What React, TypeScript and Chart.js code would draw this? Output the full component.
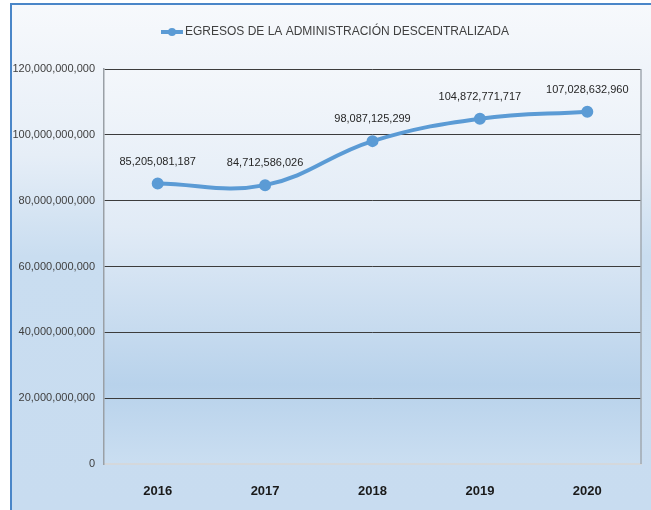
import React, { useEffect, useRef } from "react";
import { Chart, registerables } from "chart.js";

Chart.register(...registerables);

const years = ["2016", "2017", "2018", "2019", "2020"];
const egresos = [85205081187, 84712586026, 98087125299, 104872771717, 107028632960];
const seriesName = "EGRESOS DE LA ADMINISTRACIÓN DESCENTRALIZADA";
const yMin = 0;
const yMax = 120000000000;
const yStep = 20000000000;

const FONT = "'Liberation Sans Narrow', 'Liberation Sans', 'DejaVu Sans Condensed', sans-serif";
const LINE_COLOR = "#5b9bd5";

const fmt = (v: number) => Math.round(v).toLocaleString("en-US");

const backgroundPlugin = {
  id: "bgPlugin",
  beforeDraw(chart: any) {
    const { ctx, chartArea, width, height } = chart;
    ctx.save();
    const g = ctx.createLinearGradient(0, 3, 0, height);
    g.addColorStop(0, "#f7f9fc");
    g.addColorStop(0.3, "#e6eef7");
    g.addColorStop(0.5, "#c9ddf0");
    g.addColorStop(1, "#c8dcf0");
    ctx.fillStyle = g;
    ctx.fillRect(10, 3, width - 10, height - 3);
    ctx.strokeStyle = "#4a86c8";
    ctx.lineWidth = 2;
    ctx.beginPath();
    ctx.moveTo(11, height);
    ctx.lineTo(11, 4);
    ctx.lineTo(width, 4);
    ctx.stroke();
    const { left, top, right, bottom } = chartArea;
    const pg = ctx.createLinearGradient(0, top, 0, bottom);
    pg.addColorStop(0, "#f4f7fb");
    pg.addColorStop(0.4, "#e1ebf6");
    pg.addColorStop(0.8, "#b8d2eb");
    pg.addColorStop(1, "#cadef1");
    ctx.fillStyle = pg;
    ctx.fillRect(left, top, right - left, bottom - top);
    ctx.restore();
  },
  afterDraw(chart: any) {
    const { ctx, chartArea } = chart;
    ctx.save();
    ctx.strokeStyle = "#a0a8b0";
    ctx.lineWidth = 1.5;
    ctx.beginPath();
    ctx.moveTo(chartArea.right, chartArea.top);
    ctx.lineTo(chartArea.right, chartArea.bottom);
    ctx.stroke();
    ctx.restore();
  },
};

const labelsPlugin = {
  id: "dataLabels",
  afterDatasetsDraw(chart: any) {
    const { ctx } = chart;
    const meta = chart.getDatasetMeta(0);
    const data = chart.data.datasets[0].data as number[];
    ctx.save();
    ctx.font = `11px ${FONT}`;
    ctx.fillStyle = "#262626";
    ctx.textAlign = "center";
    ctx.textBaseline = "middle";
    meta.data.forEach((pt: any, i: number) => {
      ctx.fillText(fmt(data[i]), pt.x, pt.y - 22);
    });
    ctx.restore();
  },
};

const legendPlugin = {
  id: "customLegend",
  afterDraw(chart: any) {
    const { ctx } = chart;
    ctx.save();
    ctx.font = `12px ${FONT}`;
    const tw = ctx.measureText(seriesName).width;
    const sym = 24;
    const total = sym + tw;
    const cx = 335;
    const x0 = cx - total / 2;
    const y = 32;
    ctx.strokeStyle = LINE_COLOR;
    ctx.lineWidth = 4;
    ctx.beginPath();
    ctx.moveTo(x0, y);
    ctx.lineTo(x0 + sym - 2, y);
    ctx.stroke();
    ctx.fillStyle = LINE_COLOR;
    ctx.beginPath();
    ctx.arc(x0 + (sym - 2) / 2, y, 4, 0, Math.PI * 2);
    ctx.fill();
    ctx.fillStyle = "#404040";
    ctx.textAlign = "left";
    ctx.textBaseline = "middle";
    ctx.fillText(seriesName, x0 + sym, y);
    ctx.restore();
  },
};

export default function App() {
  const ref = useRef<HTMLCanvasElement>(null);
  useEffect(() => {
    if (!ref.current) return;
    const chart = new Chart(ref.current, {
      type: "line",
      data: {
        labels: years,
        datasets: [
          {
            label: seriesName,
            data: egresos,
            borderColor: LINE_COLOR,
            backgroundColor: LINE_COLOR,
            borderWidth: 4,
            pointRadius: 4,
            pointBackgroundColor: LINE_COLOR,
            pointBorderColor: LINE_COLOR,
            tension: 0.4,
            fill: false,
          },
        ],
      },
      options: {
        animation: false,
        responsive: false,
        maintainAspectRatio: false,
        layout: { padding: { left: 0, right: 10, top: 69, bottom: 0 } },
        plugins: {
          legend: { display: false },
          tooltip: { enabled: false },
          title: { display: false },
        },
        scales: {
          x: {
            offset: true,
            grid: { display: false, drawTicks: false },
            border: { display: true, color: "#d4d8dc", width: 2 },
            ticks: {
              padding: 20,
              color: "#1a1a1a",
              font: { family: FONT, size: 13, weight: "bold" },
            },
            afterFit: (s: any) => {
              s.height = 46;
            },
          },
          y: {
            min: yMin,
            max: yMax,
            grid: {
              drawTicks: false,
              color: (c: any) => (c.tick && c.tick.value === 0 ? "rgba(0,0,0,0)" : "#3c3c3c"),
              lineWidth: 1,
            },
            border: { display: true, color: "#9aa0a6", width: 1.5 },
            ticks: {
              stepSize: yStep,
              padding: 9,
              color: "#404040",
              font: { family: FONT, size: 11 },
              callback: (v: any) => fmt(Number(v)),
            },
            afterFit: (s: any) => {
              s.width = 104;
            },
          },
        },
      },
      plugins: [backgroundPlugin, labelsPlugin, legendPlugin],
    });
    return () => chart.destroy();
  }, []);
  return (
    <div style={{ position: "absolute", left: 0, top: 0, width: 651, height: 510 }}>
      <canvas ref={ref} width={651} height={510} style={{ display: "block" }} />
    </div>
  );
}
